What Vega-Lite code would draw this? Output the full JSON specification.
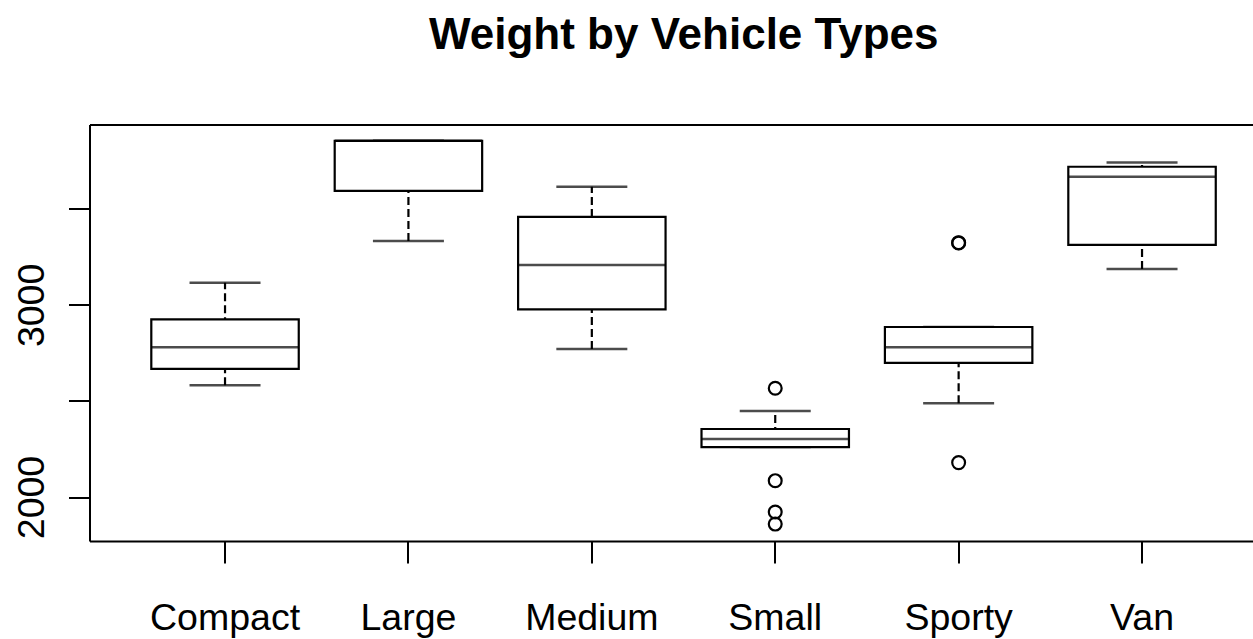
{
  "$schema": "https://vega.github.io/schema/vega-lite/v6.json",
  "autosize": "none",
  "padding": {"left": 89.5, "top": 124.5, "right": 0, "bottom": 98},
  "width": 1163.5,
  "height": 416.5,
  "title": {
    "text": "Weight by Vehicle Types",
    "font": "Liberation Sans",
    "fontSize": 44,
    "fontWeight": "bold",
    "color": "#000000",
    "anchor": "middle",
    "frame": "group",
    "baseline": "alphabetic",
    "dx": 12.5,
    "offset": 32
  },
  "datasets": {
    "stats": [
      {"type": "Compact", "lower": 2582, "q1": 2667, "median": 2780, "q3": 2925, "upper": 3115},
      {"type": "Large", "lower": 3333, "q1": 3594, "median": 3854, "q3": 3854, "upper": 3854},
      {"type": "Medium", "lower": 2771, "q1": 2977, "median": 3208, "q3": 3458, "upper": 3615},
      {"type": "Small", "lower": 2260, "q1": 2260, "median": 2302, "q3": 2354, "upper": 2448},
      {"type": "Sporty", "lower": 2488, "q1": 2698, "median": 2780, "q3": 2885, "upper": 2885},
      {"type": "Van", "lower": 3187, "q1": 3312, "median": 3667, "q3": 3719, "upper": 3741}
    ],
    "outliers": [
      {"type": "Small", "weight": 2566},
      {"type": "Small", "weight": 2085},
      {"type": "Small", "weight": 1922},
      {"type": "Small", "weight": 1859},
      {"type": "Sporty", "weight": 3324},
      {"type": "Sporty", "weight": 3322},
      {"type": "Sporty", "weight": 2179}
    ]
  },
  "resolve": {"axis": {"x": "independent"}},
  "layer": [
    {
      "data": {"name": "stats"},
      "mark": {"type": "rule", "stroke": "#000000", "strokeWidth": 2.2, "strokeDash": [8, 4]},
      "encoding": {
        "x": {
          "field": "type", "type": "nominal", "title": null,
          "scale": {"domain": ["Compact", "Large", "Medium", "Small", "Sporty", "Van"], "paddingInner": 0.196, "paddingOuter": 0.27, "align": 0.624, "round": false},
          "axis": {"orient": "bottom", "domain": true, "domainColor": "#000000", "domainWidth": 2, "ticks": true, "tickSize": 22, "tickWidth": 2, "tickColor": "#000000", "labelFont": "Liberation Sans", "labelFontSize": 37.5, "labelColor": "#000000", "labelAngle": 0, "labelBaseline": "alphabetic", "labelPadding": 66, "grid": false}
        },
        "y": {
          "field": "lower", "type": "quantitative", "title": null,
          "scale": {"domain": [1771, 3939], "nice": false, "zero": false},
          "axis": {"values": [2000, 2500, 3000, 3500], "labelExpr": "datum.value % 1000 == 0 ? datum.label : ''", "format": "d", "grid": false, "domain": true, "domainColor": "#000000", "domainWidth": 2, "ticks": true, "tickSize": 21, "tickWidth": 2, "tickColor": "#000000", "labelFont": "Liberation Sans", "labelFontSize": 37.5, "labelColor": "#000000", "labelAngle": 270, "labelAlign": "center", "labelBaseline": "alphabetic", "labelPadding": 25.5, "labelFlush": false, "labelOverlap": false, "labelBound": false}
        },
        "y2": {"field": "upper"}
      }
    },
    {
      "data": {"name": "stats"},
      "mark": {"type": "tick", "color": "#000000", "thickness": 2.5, "size": 71},
      "encoding": {
        "x": {"field": "type", "type": "nominal", "title": null, "axis": null},
        "y": {"field": "lower", "type": "quantitative", "title": null}
      }
    },
    {
      "data": {"name": "stats"},
      "mark": {"type": "tick", "color": "#000000", "thickness": 2.5, "size": 71},
      "encoding": {
        "x": {"field": "type", "type": "nominal", "title": null, "axis": null},
        "y": {"field": "upper", "type": "quantitative", "title": null}
      }
    },
    {
      "data": {"name": "stats"},
      "mark": {"type": "bar", "fill": "#ffffff", "stroke": "#000000", "strokeWidth": 2.2},
      "encoding": {
        "x": {"field": "type", "type": "nominal", "title": null,
          "axis": {"orient": "top", "domain": true, "domainColor": "#000000", "domainWidth": 2, "ticks": false, "labels": false, "grid": false, "title": null}},
        "y": {"field": "q1", "type": "quantitative", "title": null},
        "y2": {"field": "q3"}
      }
    },
    {
      "data": {"name": "stats"},
      "mark": {"type": "tick", "color": "#000000", "thickness": 2.5, "size": 147.4},
      "encoding": {
        "x": {"field": "type", "type": "nominal", "title": null, "axis": null},
        "y": {"field": "median", "type": "quantitative", "title": null}
      }
    },
    {
      "data": {"name": "outliers"},
      "mark": {"type": "point", "shape": "circle", "filled": false, "stroke": "#000000", "strokeWidth": 2.2, "size": 165, "opacity": 1},
      "encoding": {
        "x": {"field": "type", "type": "nominal", "title": null, "axis": null},
        "y": {"field": "weight", "type": "quantitative", "title": null}
      }
    }
  ],
  "config": {
    "view": {"stroke": null},
    "font": "Liberation Sans",
    "background": "#ffffff"
  }
}
